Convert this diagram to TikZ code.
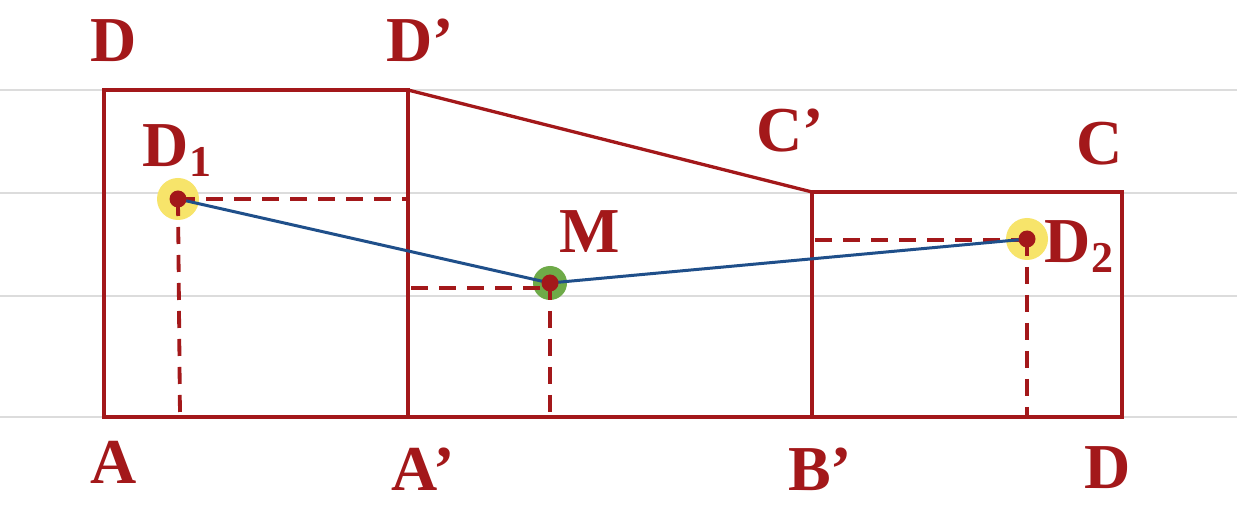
\documentclass[tikz,border=0pt]{standalone}
\usepackage{fontspec}
\setmainfont{Liberation Serif}
\definecolor{dred}{HTML}{A3181A}
\definecolor{dblue}{HTML}{1F4F8A}
\definecolor{hyel}{HTML}{F7E46A}
\definecolor{hgrn}{HTML}{6EAA48}
\definecolor{rule}{HTML}{DCDCDC}
\tikzset{
  edge/.style={draw=dred, line width=3.3pt, line join=miter},
  guide/.style={draw=dred, line width=3.8pt, dash pattern=on 17pt off 11pt},
  path/.style={draw=dblue, line width=3pt},
  lbl/.style={text=dred, font=\fontsize{64}{70}\selectfont\bfseries, inner sep=0pt, anchor=base},
  dot/.style={fill=dred, circle, inner sep=0pt, minimum size=17pt},
  rulel/.style={draw=rule, line width=2pt}
}
\newcommand{\sbs}[1]{\raisebox{-10pt}{\fontsize{44}{48}\selectfont #1}}
\begin{document}
\begin{tikzpicture}[x=1pt,y=-1pt]
\useasboundingbox (0,0) rectangle (1237,526);
\fill[white] (0,0) rectangle (1237,526);
% ruled lines
\foreach \yy in {90,193,296,417} \draw[rulel] (0,\yy) -- (1237,\yy);
% vertices
\coordinate (A) at (104,417);
\coordinate (D) at (104,90);
\coordinate (Dp) at (408,90);
\coordinate (Ap) at (408,417);
\coordinate (Cp) at (812,192);
\coordinate (Bp) at (812,417);
\coordinate (C) at (1122,192);
\coordinate (Dr) at (1122,417);
% points
\coordinate (D1) at (178,199);
\coordinate (M) at (550,283);
\coordinate (D2) at (1027,239);
\coordinate (Mh) at (550,288);
\coordinate (D2h) at (1027,240);
% highlights
\fill[hyel] (D1) circle (21pt);
\fill[hyel] (D2) circle (21pt);
\fill[hgrn] (M) circle (17pt);
% shapes
\draw[edge] (A) -- (D) -- (Dp) -- (Ap) -- cycle;
\draw[edge] (Dp) -- (Cp) -- (Bp);
\draw[edge] (Ap) -- (Bp) -- (Cp) -- (C) -- (Dr) -- cycle;
% guides
\draw[guide] (D1) -- (Dp |- D1);
\draw[guide] (D1) -- ([xshift=2pt]D1 |- A);
\draw[guide] ([xshift=3pt]Ap |- Mh) -- (Mh);
\draw[guide] (M) -- (M |- A);
\draw[guide] ([xshift=3pt]Cp |- D2h) -- (D2h);
\draw[guide] (D2) -- (D2 |- A);
% path
\draw[path] (D1) -- (M) -- (D2);
% dots
\node[dot] (d1) at (D1) {};
\node[dot] (m) at (M) {};
\node[dot] (d2) at (D2) {};
% labels
\node[lbl] (lD) at (113.5,62) {D};
\node[lbl] (lDp) at (420,62) {D’};
\node[lbl] (lD1) at (177,167) {D\sbs{1}};
\node[lbl] (lCp) at (790,152) {C’};
\node[lbl] (lC) at (1100,165) {C};
\node[lbl] (lM) at (590,253) {M};
\node[lbl] (lD2) at (1079,263) {D\sbs{2}};
\node[lbl] (lA) at (114,483) {A};
\node[lbl] (lAp) at (423,490) {A’};
\node[lbl] (lBp) at (820,490) {B’};
\node[lbl] (lDr) at (1108,488) {D};
\end{tikzpicture}
\end{document}
